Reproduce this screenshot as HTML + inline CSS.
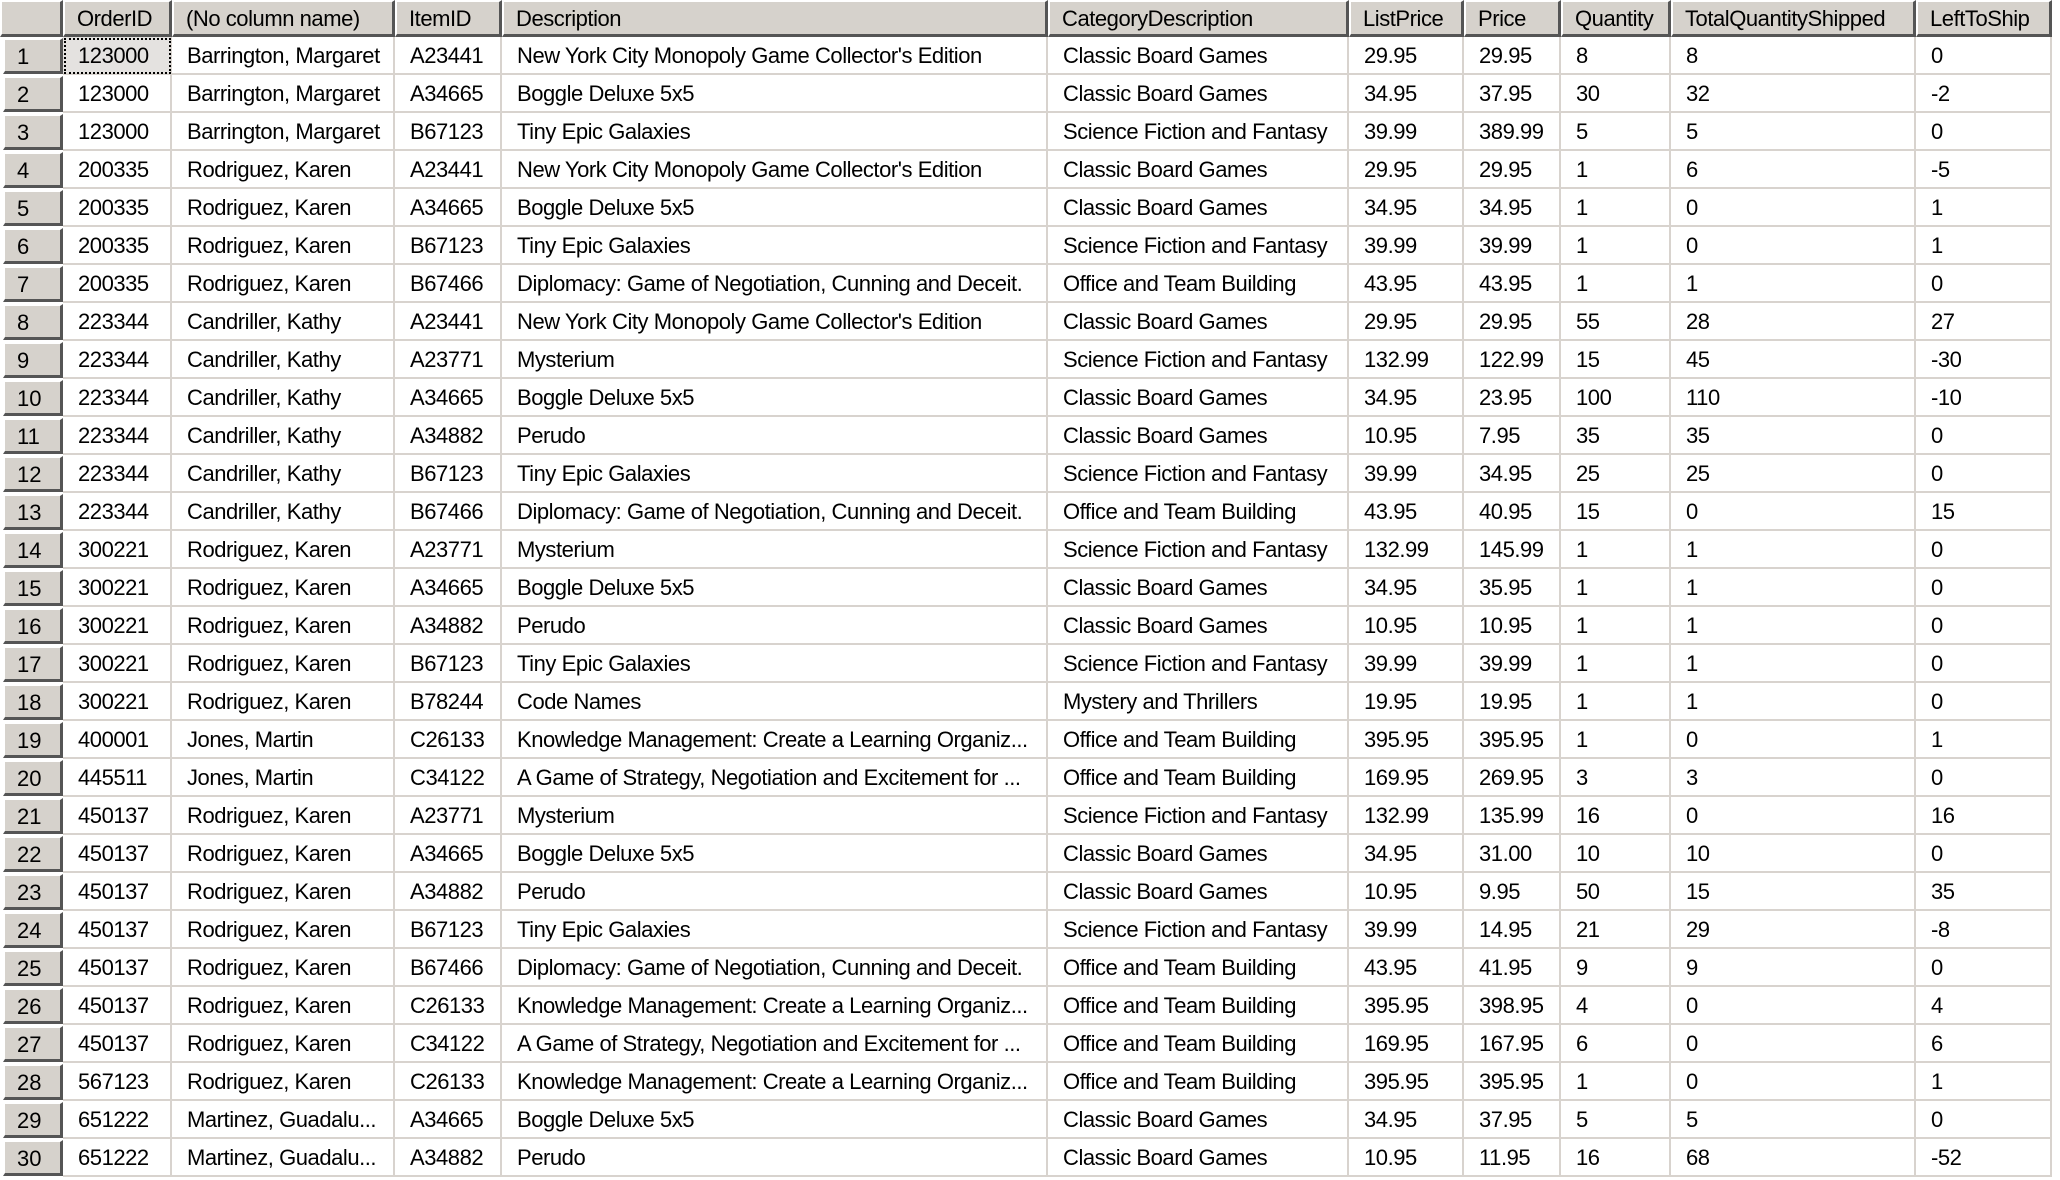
<!DOCTYPE html>
<html><head><meta charset="utf-8">
<style>
html,body{margin:0;padding:0;width:2060px;height:1180px;overflow:hidden;background:#fff;font-family:"Liberation Sans",Arial,sans-serif;}
#grid{position:absolute;left:0;top:0;width:2060px;height:1180px;}
.c{position:absolute;box-sizing:border-box;font-size:22px;letter-spacing:-0.45px;color:#000;white-space:nowrap;overflow:hidden;line-height:37px;padding-left:15px;border-right:2px solid #d8d3ce;border-bottom:2px solid #d8d3ce;background:#fff;}
.h{position:absolute;box-sizing:border-box;font-size:22px;letter-spacing:-0.45px;color:#000;white-space:nowrap;overflow:hidden;line-height:34px;padding-left:12px;background:#d6d2cc;border-top:2px solid #fff;border-left:2px solid #fff;border-right:3px solid #555;border-bottom:3px solid #555;}
.rh{position:absolute;box-sizing:border-box;font-size:22px;color:#000;line-height:33px;padding-left:12px;background:#d6d2cc;border-top:2px solid #fff;border-left:2px solid #fff;border-right:3px solid #555;border-bottom:3px solid #555;}
</style></head><body>
<div id="grid"></div>
<script>
const colNames=["OrderID","(No column name)","ItemID","Description","CategoryDescription","ListPrice","Price","Quantity","TotalQuantityShipped","LeftToShip"];
const colX=[63,172,395,502,1048,1349,1464,1561,1671,1916,2052];
const rows=[
["123000","Barrington, Margaret","A23441","New York City Monopoly Game Collector's Edition","Classic Board Games","29.95","29.95","8","8","0"],
["123000","Barrington, Margaret","A34665","Boggle Deluxe 5x5","Classic Board Games","34.95","37.95","30","32","-2"],
["123000","Barrington, Margaret","B67123","Tiny Epic Galaxies","Science Fiction and Fantasy","39.99","389.99","5","5","0"],
["200335","Rodriguez, Karen","A23441","New York City Monopoly Game Collector's Edition","Classic Board Games","29.95","29.95","1","6","-5"],
["200335","Rodriguez, Karen","A34665","Boggle Deluxe 5x5","Classic Board Games","34.95","34.95","1","0","1"],
["200335","Rodriguez, Karen","B67123","Tiny Epic Galaxies","Science Fiction and Fantasy","39.99","39.99","1","0","1"],
["200335","Rodriguez, Karen","B67466","Diplomacy: Game of Negotiation, Cunning and Deceit.","Office and Team Building","43.95","43.95","1","1","0"],
["223344","Candriller, Kathy","A23441","New York City Monopoly Game Collector's Edition","Classic Board Games","29.95","29.95","55","28","27"],
["223344","Candriller, Kathy","A23771","Mysterium","Science Fiction and Fantasy","132.99","122.99","15","45","-30"],
["223344","Candriller, Kathy","A34665","Boggle Deluxe 5x5","Classic Board Games","34.95","23.95","100","110","-10"],
["223344","Candriller, Kathy","A34882","Perudo","Classic Board Games","10.95","7.95","35","35","0"],
["223344","Candriller, Kathy","B67123","Tiny Epic Galaxies","Science Fiction and Fantasy","39.99","34.95","25","25","0"],
["223344","Candriller, Kathy","B67466","Diplomacy: Game of Negotiation, Cunning and Deceit.","Office and Team Building","43.95","40.95","15","0","15"],
["300221","Rodriguez, Karen","A23771","Mysterium","Science Fiction and Fantasy","132.99","145.99","1","1","0"],
["300221","Rodriguez, Karen","A34665","Boggle Deluxe 5x5","Classic Board Games","34.95","35.95","1","1","0"],
["300221","Rodriguez, Karen","A34882","Perudo","Classic Board Games","10.95","10.95","1","1","0"],
["300221","Rodriguez, Karen","B67123","Tiny Epic Galaxies","Science Fiction and Fantasy","39.99","39.99","1","1","0"],
["300221","Rodriguez, Karen","B78244","Code Names","Mystery and Thrillers","19.95","19.95","1","1","0"],
["400001","Jones, Martin","C26133","Knowledge Management: Create a Learning Organiz...","Office and Team Building","395.95","395.95","1","0","1"],
["445511","Jones, Martin","C34122","A Game of Strategy, Negotiation and Excitement for ...","Office and Team Building","169.95","269.95","3","3","0"],
["450137","Rodriguez, Karen","A23771","Mysterium","Science Fiction and Fantasy","132.99","135.99","16","0","16"],
["450137","Rodriguez, Karen","A34665","Boggle Deluxe 5x5","Classic Board Games","34.95","31.00","10","10","0"],
["450137","Rodriguez, Karen","A34882","Perudo","Classic Board Games","10.95","9.95","50","15","35"],
["450137","Rodriguez, Karen","B67123","Tiny Epic Galaxies","Science Fiction and Fantasy","39.99","14.95","21","29","-8"],
["450137","Rodriguez, Karen","B67466","Diplomacy: Game of Negotiation, Cunning and Deceit.","Office and Team Building","43.95","41.95","9","9","0"],
["450137","Rodriguez, Karen","C26133","Knowledge Management: Create a Learning Organiz...","Office and Team Building","395.95","398.95","4","0","4"],
["450137","Rodriguez, Karen","C34122","A Game of Strategy, Negotiation and Excitement for ...","Office and Team Building","169.95","167.95","6","0","6"],
["567123","Rodriguez, Karen","C26133","Knowledge Management: Create a Learning Organiz...","Office and Team Building","395.95","395.95","1","0","1"],
["651222","Martinez, Guadalu...","A34665","Boggle Deluxe 5x5","Classic Board Games","34.95","37.95","5","5","0"],
["651222","Martinez, Guadalu...","A34882","Perudo","Classic Board Games","10.95","11.95","16","68","-52"]
];
const g=document.getElementById('grid');
const HEAD=37, PITCH=38;
const corner=document.createElement('div');
corner.className='h';
corner.style.cssText='left:0;top:0;width:63px;height:37px;';


g.appendChild(corner);
colNames.forEach((n,i)=>{
  const d=document.createElement('div');
  d.className='h';
  d.style.left=colX[i]+'px';d.style.top='0px';d.style.width=(colX[i+1]-colX[i])+'px';d.style.height='37px';
  d.textContent=n;
  
  
  g.appendChild(d);
});
rows.forEach((r,ri)=>{
  const y=HEAD+ri*PITCH;
  const h=document.createElement('div');
  h.className='rh';
  h.style.left='3px';h.style.top=(y+1)+'px';h.style.width='60px';h.style.height=(PITCH-2)+'px';
  h.textContent=String(ri+1);
  
  
  g.appendChild(h);
  r.forEach((v,ci)=>{
    const d=document.createElement('div');
    d.className='c';
    d.style.left=colX[ci]+'px';d.style.top=y+'px';d.style.width=(colX[ci+1]-colX[ci])+'px';d.style.height=PITCH+'px';
    d.textContent=v;
    if(ri===0&&ci===0){d.style.background='#e4e2e0';d.style.outline='2px dotted #000';d.style.outlineOffset='-3px';}
    
    
    g.appendChild(d);
  });
});
</script>
</body></html>
